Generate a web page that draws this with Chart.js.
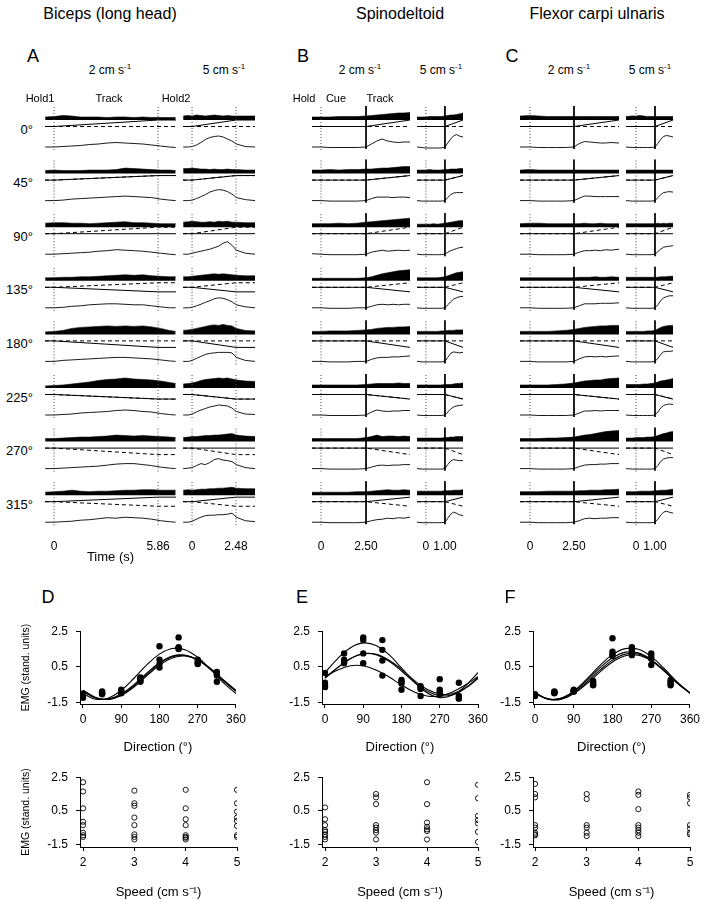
<!DOCTYPE html>
<html>
<head>
<meta charset="utf-8">
<script src="https://cdn.jsdelivr.net/npm/chart.js@4.4.1/dist/chart.umd.min.js"></script>
<style>
  body { margin: 0; background: #fff; }
  #fig { position: relative; width: 704px; height: 900px; overflow: hidden; font-family: "Liberation Sans", Arial, Helvetica, sans-serif; color: #000; }
  .lbl { position: absolute; white-space: nowrap; line-height: 1; transform: translate(-50%, -50%); }
  .lbl.right { transform: translate(-100%, -50%); }
  .lbl sup { font-size: 8px; vertical-align: 5px; }
</style>
</head>
<body>
<div id="fig"></div>
<script>
// directions and hand path components
const directions = ['0°', '45°', '90°', '135°', '180°', '225°', '270°', '315°'];
const dirDeg = [0, 45, 90, 135, 180, 225, 270, 315];
const handX = [1, 0.7, 0, -0.7, -1, -0.7, 0, 0.7];
const handY = [0, 0.7, 1, 0.7, 0, -0.7, -1, -0.7];

// sample times (s)
const tA2 = [-0.5, 0, 0.5, 1, 1.5, 2, 2.5, 3, 3.5, 4, 4.5, 5, 5.5, 6, 6.5, 6.85];
const tA5 = [-0.5, -0.2, 0, 0.25, 0.5, 0.75, 1, 1.25, 1.5, 1.75, 2, 2.25, 2.5, 3, 3.55];
const tB2 = [-0.5, 0, 0.5, 1, 1.5, 2, 2.5, 2.8, 3.1, 3.4, 3.7, 4, 4.3, 4.6, 4.94];
const tB5 = [-0.47, -0.2, 0, 0.2, 0.4, 0.6, 0.8, 1, 1.15, 1.3, 1.45, 1.6, 1.75, 1.95];
const tC2 = [-0.57, 0, 0.5, 1, 1.5, 2, 2.5, 2.8, 3.1, 3.4, 3.7, 4, 4.3, 4.6, 5.06];
const tC5 = [-0.53, -0.2, 0, 0.2, 0.4, 0.6, 0.8, 1, 1.15, 1.3, 1.45, 1.6, 1.75, 1.95];

// biceps EMG envelope and speed trace, one row per direction
const emgA2 = [
  [3, 3.5, 4.5, 4, 3, 3, 3, 2.5, 3, 3, 2.5, 3, 2.5, 2.5, 2.5, 2.5],
  [3, 3.5, 3, 3, 3, 3.5, 3.5, 3.5, 4, 5.5, 5, 4.5, 4, 3.5, 3.5, 3],
  [4, 4.5, 4.5, 4, 4, 3.5, 4, 4.5, 5, 5.5, 4.5, 4.5, 4, 3.5, 3.5, 3.5],
  [3, 3, 3.5, 3.5, 4, 4, 4.5, 5, 5.5, 6, 5.5, 6, 5, 4.5, 4, 4],
  [2.5, 3, 4, 6, 7, 7.5, 8, 8.5, 8, 8.5, 8, 8.5, 7.5, 6, 4, 3],
  [2, 2.5, 3, 4, 5, 6, 7.5, 8.5, 9, 10, 9, 8.5, 8, 7, 5.5, 4.5],
  [3, 3, 3.5, 4, 4.5, 4.5, 5, 5.5, 6.5, 6, 5.5, 6, 5.5, 5, 4.5, 4],
  [3, 3.5, 4, 5, 4, 3.5, 4, 4, 4.5, 5, 5, 5.5, 5.5, 5, 5, 5]
];
const velA2 = [
  [0, 0, 0.5, 1, 1.5, 2.5, 3, 4, 4.5, 4, 3.5, 3, 2, 1, 0, -0.5],
  [0, 0, 0.5, 1.5, 2, 2.5, 3, 3.5, 4, 4.5, 4, 3.5, 3, 1.5, 0.5, 0],
  [0, 0, 0.5, 1, 1.5, 2, 3, 3.5, 4.5, 4, 3.5, 3, 2, 1, 0, -0.5],
  [0, 0, 0.5, 1.5, 2, 3, 3.5, 4, 4, 3.5, 3, 3, 2, 1, 0, 0],
  [0, 0, 1, 1.5, 2, 2.5, 3, 3.5, 4, 4, 3.5, 3, 2.5, 1.5, 0.5, 0],
  [0, 0, 0.5, 1, 2, 2.5, 3, 3.5, 4.5, 5, 4.5, 3.5, 3, 1.5, 0.5, 0],
  [0, 0, 0.5, 1, 1.5, 2, 2.5, 3.5, 4.5, 5, 5, 4, 3, 1.5, 0.5, 0],
  [0, 0, 0.5, 1, 2, 2.5, 3.5, 4.5, 4, 5, 4.5, 4, 3, 1.5, 0.5, 0]
];
const emgA5 = [
  [4, 4.5, 4, 5, 4.5, 4, 4.5, 5, 4.5, 4, 4.5, 4, 4, 4, 4],
  [5, 5, 5.5, 5, 4.5, 4.5, 4, 4.5, 4, 4, 4.5, 4, 4, 3.5, 3.5],
  [5, 5.5, 6, 5.5, 5, 5, 5.5, 5, 6, 5.5, 6, 5, 5, 4.5, 4.5],
  [4, 4, 4.5, 5, 5.5, 6, 6.5, 7, 6.5, 7, 6.5, 6, 5.5, 5, 5],
  [4, 4.5, 5, 6, 7, 8, 9, 9.5, 9, 10, 9, 8.5, 6, 4, 3.5],
  [4, 4.5, 5, 6, 7.5, 8.5, 9, 9.5, 10, 9.5, 10, 9, 8, 7, 6.5],
  [4, 4.5, 5, 5, 5.5, 6, 6, 6.5, 6.5, 7, 7.5, 8, 6.5, 5.5, 5],
  [5, 5.5, 5, 5.5, 6, 6, 6.5, 6.5, 7, 7, 7.5, 8, 7, 6.5, 6.5]
];
const velA5 = [
  [0, 0, 0.5, 2, 4.5, 7.5, 9.5, 10.5, 11, 10, 8, 6, 3, 0.5, 0],
  [0, 0, 0.5, 2, 4, 6, 8.5, 10, 11, 10.5, 9, 6.5, 3, 1, 0],
  [0, 0, 1, 2, 3, 4, 5, 6.5, 8, 11, 12.5, 9, 4, 1, 0],
  [0, 0, 0.5, 2, 3.5, 5.5, 7, 9, 10, 9.5, 8, 6, 3, 1, 0],
  [0, 0, 1, 3, 5, 7, 8, 8.5, 9, 9, 9, 8.5, 4, 1, 0],
  [0, 0, 1, 3, 5, 6.5, 8, 9, 10, 9.5, 9, 7, 3.5, 1, 0.5],
  [0, 0.5, 1, 3, 5, 4, 6, 9, 10, 8.5, 8, 7, 4, 1, 0],
  [0, 0, 1, 3, 5, 6.5, 7, 7, 7.5, 7.5, 8, 9, 5, 1.5, 0.5]
];

// spinodeltoid
const emgB2 = [
  [3, 3, 3, 3.5, 3.5, 3.5, 4, 4.5, 5, 5.5, 6, 6.5, 7, 7, 7.5],
  [3.5, 3.5, 4, 3.5, 4, 4, 4.5, 4.5, 5, 5.5, 5.5, 6, 6.5, 7, 7],
  [3.5, 3.5, 3.5, 4, 3.5, 4, 5, 5.5, 6, 6.5, 7, 7.5, 8, 8.5, 9],
  [2.5, 2.5, 2.5, 2.5, 2.5, 2.5, 3, 4, 5.5, 7, 8, 9, 10, 10.5, 11],
  [3, 3, 3.5, 3.5, 3.5, 4, 4.5, 5, 6, 6.5, 7, 7, 7.5, 7.5, 8],
  [3, 3, 3, 3, 3, 3, 3.5, 4, 4.5, 4.5, 4.5, 4.5, 5, 4.5, 4.5],
  [3, 3, 3, 3, 3, 3, 4, 5, 6.5, 5, 5.5, 5.5, 5, 5.5, 5],
  [3, 3, 3, 3, 3, 3.5, 3.5, 4, 4.5, 5, 5.5, 5, 5, 5.5, 5]
];
const velB2 = [
  [0, 0, -0.5, -0.5, -0.5, -0.5, 0, 3, 6, 8, 6, 5, 4.5, 5, 5],
  [0, 0, -0.5, -0.5, -0.5, -0.5, 0, 2, 3.5, 3.5, 3.5, 3, 3.5, 3.5, 3],
  [0.5, 0, -0.5, -0.5, -0.5, -0.5, 0, 2, 3, 4, 3, 3.5, 4, 3.5, 4],
  [0, 0, -0.5, -0.5, -0.5, 0, 0, 1.5, 3, 3.5, 3, 3.5, 3, 3.5, 3.5],
  [0, 0, -0.5, -0.5, -0.5, 0, 0, 2, 3.5, 4, 4, 4.5, 4.5, 5, 5.5],
  [0, 0, -0.5, -0.5, -0.5, -0.5, 0, 3, 5, 4, 3.5, 4, 4, 4.5, 4.5],
  [0, 0, -0.5, -0.5, -0.5, -0.5, 0, 1.5, 3, 3.5, 3, 3.5, 3.5, 4, 4],
  [0, 0, -0.5, -0.5, -0.5, -0.5, 0, 1.5, 2.5, 3, 4, 3.5, 4.5, 4, 5]
];
const emgB5 = [
  [3, 3, 3, 3.5, 3.5, 3.5, 3.5, 4, 4.5, 5, 5, 5.5, 6, 7],
  [3.5, 3.5, 3.5, 4, 3.5, 3.5, 3.5, 4, 4, 4.5, 4.5, 4.5, 5, 5],
  [3, 3, 3, 3, 3.5, 3, 3.5, 4, 4.5, 5, 5.5, 6, 6.5, 6.5],
  [3, 3, 3, 3, 3, 3, 3.5, 4, 5, 6, 7, 8, 8.5, 9],
  [3, 3, 3, 3, 3, 3, 3.5, 3.5, 4, 4, 4, 4.5, 4.5, 4.5],
  [3, 3, 3, 3, 3, 3, 3, 3.5, 3.5, 3.5, 4, 4.5, 4.5, 5],
  [3.5, 3.5, 3.5, 3.5, 3.5, 3.5, 3.5, 4, 4, 4.5, 4.5, 5, 5, 5],
  [4, 4, 4, 4, 4, 4, 4, 4.5, 4.5, 4.5, 5, 5, 5, 5.5]
];
const velB5 = [
  [0, -0.5, -1, -1, -1, -1, -1, 0, 4, 8, 11, 12.5, 11, 10],
  [0, -0.5, -0.5, -0.5, -0.5, -0.5, -0.5, 0, 3, 6, 7.5, 8, 8, 8],
  [0, -0.5, -0.5, -0.5, -0.5, -0.5, -0.5, 0, 2, 3.5, 4.5, 5.5, 6.5, 7],
  [0, -0.5, -0.5, -0.5, -0.5, -0.5, -0.5, 0, 3, 6, 8.5, 10, 11, 11.5],
  [0, -0.5, -0.5, -0.5, -0.5, -0.5, -0.5, 0, 4, 8, 9.5, 9, 8.5, 9],
  [0, -0.5, -0.5, -0.5, -0.5, -0.5, -0.5, 0, 3, 6, 8, 9, 9.5, 10],
  [0, -0.5, -0.5, -0.5, -0.5, -0.5, -0.5, 0, 4, 7.5, 9, 8.5, 8, 8],
  [0, -0.5, -0.5, -0.5, -0.5, -0.5, -0.5, 0, 4, 8, 10, 9, 7.5, 6.5]
];

// flexor carpi ulnaris
const emgC2 = [
  [4, 4.5, 4, 3.5, 3.5, 3.5, 3.5, 3.5, 3.5, 3.5, 3.5, 3.5, 3.5, 3.5, 3.5],
  [3.5, 4, 3.5, 3.5, 3.5, 3.5, 3.5, 3.5, 3.5, 3.5, 3.5, 3.5, 3.5, 3.5, 3.5],
  [3.5, 4, 4, 3.5, 3.5, 3.5, 3.5, 3.5, 4, 3.5, 3.5, 4, 3.5, 3.5, 3.5],
  [3, 3, 3, 3, 3, 3, 3, 3.5, 3.5, 3.5, 4, 3.5, 3.5, 4, 3.5],
  [3, 3, 3, 3, 3.5, 4, 5, 6, 7, 7.5, 8, 8.5, 8.5, 9, 9],
  [3, 3, 3, 3, 3.5, 4, 5, 6, 7, 7.5, 8, 8, 9, 9.5, 10],
  [3, 3, 3, 3.5, 3.5, 4, 4.5, 5.5, 6.5, 7, 8, 9, 10, 10.5, 11],
  [3.5, 3.5, 3.5, 4, 4, 4, 4, 4.5, 4.5, 5, 5, 5, 5.5, 5.5, 6]
];
const velC2 = [
  [0, 0, -0.5, -0.5, -0.5, -0.5, 0, 3.5, 5.5, 5, 4.5, 4, 4, 4.5, 4],
  [0, 0, -0.5, -0.5, -0.5, -0.5, 0, 2.5, 4.5, 4.5, 4, 4, 4, 4, 4],
  [0, 0, -0.5, -0.5, -0.5, -0.5, 0, 2, 3.5, 3.5, 4, 3.5, 4.5, 4, 5],
  [0, 0, -0.5, -0.5, -0.5, -0.5, 0, 2, 4, 4, 4, 4.5, 4.5, 4.5, 5],
  [0, 0, -0.5, -0.5, -0.5, -0.5, 0, 2.5, 4.5, 5, 4.5, 5, 4.5, 5, 5.5],
  [0, 0, -0.5, -0.5, -0.5, -0.5, 0, 2, 4, 4, 4.5, 4, 4.5, 4.5, 4.5],
  [0, 0, -0.5, -0.5, -0.5, -0.5, 0, 2, 3.5, 4, 4, 4.5, 4.5, 5, 5],
  [0, 0, -0.5, -0.5, -0.5, -0.5, 0, 1.5, 3.5, 4, 3.5, 4, 4, 4.5, 4.5]
];
const emgC5 = [
  [3.5, 4, 4, 4.5, 4, 3.5, 3.5, 3.5, 3.5, 3.5, 3.5, 3.5, 3.5, 3.5],
  [3.5, 3.5, 3.5, 3.5, 3.5, 3.5, 3.5, 3.5, 3.5, 3.5, 3.5, 3.5, 3.5, 3.5],
  [3.5, 3.5, 3.5, 3.5, 3.5, 3.5, 3.5, 3.5, 4, 3.5, 4, 3.5, 4, 4],
  [3.5, 3.5, 3.5, 3.5, 3.5, 3.5, 3.5, 3.5, 3.5, 4, 4, 4, 4.5, 4.5],
  [3, 3, 3, 3, 3, 3.5, 3.5, 4, 5.5, 7, 8, 8.5, 9, 9],
  [3.5, 3.5, 3.5, 3.5, 4, 4, 4.5, 5, 6, 7, 7.5, 8, 8.5, 9.5],
  [3.5, 3.5, 4, 4, 4, 4.5, 4.5, 5, 6, 7, 8, 8.5, 9.5, 10],
  [3.5, 3.5, 3.5, 4, 4, 4, 4, 4.5, 4.5, 5, 5, 5, 5.5, 6]
];
const velC5 = [
  [0, -0.5, -0.5, -0.5, -0.5, -0.5, -0.5, 0, 3.5, 7.5, 10.5, 11.5, 11, 10],
  [0, -0.5, -0.5, -0.5, -0.5, -0.5, -0.5, 0, 3, 6, 8, 8.5, 9, 8.5],
  [0, -0.5, -0.5, -0.5, -0.5, -0.5, -0.5, 0, 2.5, 5, 7, 7.5, 8, 8.5],
  [0, -0.5, -0.5, -0.5, -0.5, -0.5, -0.5, 0, 3, 7, 10, 11, 12, 12],
  [0, -0.5, -0.5, -0.5, -0.5, -0.5, -0.5, 0, 3, 7, 9.5, 10, 10, 10.5],
  [0, -0.5, -0.5, -0.5, -0.5, -0.5, -0.5, 0, 3, 7, 9.5, 10.5, 11, 10.5],
  [0, -0.5, -0.5, -0.5, -0.5, -0.5, -0.5, 0, 3, 7, 9.5, 10.5, 11, 11],
  [0, -0.5, -0.5, -0.5, -0.5, -0.5, -0.5, 0, 3, 7, 10, 11, 10, 9]
];

// tuning (D-F): mean EMG per direction, one value per speed
const bicepsDir = [[-1.0, -1.1, -1.2, -1.25], [-0.9, -0.95, -1.0, -1.05], [-0.8, -0.9, -0.95, -1.0], [-0.1, -0.2, -0.3, -0.35],
  [1.65, 0.9, 0.65, 0.45], [2.15, 1.6, 1.55, 1.5], [0.9, 0.8, 0.7, 0.65], [0.2, 0.1, 0.0, -0.35]];
const spinoDir = [[0.15, -0.4, -0.55, -0.65], [1.25, 0.9, 0.8, 0.7], [2.15, 2.0, 1.25, 0.7], [2.0, 1.45, 0.85, 0.0],
  [-0.25, -0.35, -0.45, -0.8], [-0.6, -0.7, -0.75, -1.15], [-0.2, -0.8, -0.9, -1.05], [-0.4, -1.15, -1.25, -1.3]];
const flexorDir = [[-1.05, -1.1, -1.1, -1.15], [-0.9, -0.95, -0.95, -1.0], [-0.8, -0.85, -0.9, -0.9], [-0.3, -0.4, -0.5, -0.55],
  [2.1, 1.35, 1.2, 1.1], [1.6, 1.45, 1.3, 1.15], [1.25, 1.1, 0.95, 0.6], [-0.25, -0.35, -0.45, -0.55]];

// fitted curves, read every 30 deg
const curveDeg = [0, 30, 60, 90, 120, 150, 180, 210, 240, 270, 300, 330, 360];
const bicepsFits = [
  [-1.01, -1.33, -1.26, -0.83, -0.15, 0.60, 1.21, 1.53, 1.46, 1.03, 0.35, -0.40, -1.01],
  [-0.87, -1.26, -1.34, -1.09, -0.57, 0.07, 0.67, 1.06, 1.14, 0.89, 0.37, -0.27, -0.87],
  [-0.82, -1.23, -1.34, -1.12, -0.64, -0.01, 0.58, 0.99, 1.10, 0.88, 0.40, -0.23, -0.82],
  [-0.88, -1.26, -1.31, -1.04, -0.51, 0.14, 0.72, 1.10, 1.15, 0.88, 0.35, -0.30, -0.88]
];
const spinoFits = [
  [0.17, 0.96, 1.57, 1.84, 1.70, 1.19, 0.43, -0.36, -0.97, -1.24, -1.10, -0.59, 0.17],
  [-0.16, 0.46, 0.97, 1.23, 1.18, 0.82, 0.26, -0.36, -0.87, -1.13, -1.08, -0.72, -0.16],
  [-0.12, 0.45, 0.95, 1.23, 1.20, 0.88, 0.35, -0.27, -0.77, -1.03, -1.02, -0.70, -0.12],
  [-0.07, 0.32, 0.55, 0.55, 0.32, -0.07, -0.53, -0.92, -1.15, -1.15, -0.92, -0.53, -0.07]
];
const flexorFits = [
  [-0.98, -1.32, -1.28, -0.87, -0.20, 0.55, 1.18, 1.52, 1.48, 1.07, 0.40, -0.35, -0.98],
  [-1.00, -1.32, -1.28, -0.90, -0.28, 0.42, 1.00, 1.32, 1.28, 0.90, 0.28, -0.42, -1.00],
  [-0.97, -1.31, -1.31, -0.97, -0.39, 0.29, 0.87, 1.21, 1.21, 0.87, 0.29, -0.39, -0.97],
  [-0.98, -1.33, -1.34, -1.02, -0.47, 0.18, 0.77, 1.12, 1.15, 0.84, 0.26, -0.41, -0.98]
];

// speed plots: values per speed
const speeds = [2, 3, 4, 5];
const bicepsSpeed = [[2.2, 1.65, 0.65, -0.15, -0.35, -0.8, -0.95, -1.05], [1.7, 0.95, 0.8, 0.1, -0.35, -0.9, -1.05, -1.2],
  [1.75, 0.65, 0.0, -0.35, -0.95, -1.05, -1.1, -1.2], [1.75, 0.95, 0.45, 0.1, -0.1, -0.4, -0.95, -1.05]];
const spinoSpeed = [[0.7, 0.0, -0.35, -0.65, -0.75, -0.9, -1.05, -1.2], [1.5, 1.3, 0.9, -0.35, -0.5, -0.65, -0.8, -1.2],
  [2.2, 0.9, -0.2, -0.45, -0.6, -0.7, -1.2], [2.05, 1.25, 0.2, -0.05, -0.25, -0.75, -1.35]];
const flexorSpeed = [[2.1, 1.5, 1.3, -0.35, -0.5, -0.8, -0.9, -0.95], [1.5, 1.2, -0.35, -0.5, -0.8, -1.0],
  [1.65, 1.45, 0.6, -0.35, -0.5, -0.65, -0.8, -1.0], [1.45, 1.3, 0.95, -0.35, -0.55, -0.8, -0.9]];

const emgTicks = [-1.5, 0.5, 2.5];

Chart.defaults.font.family = '"Liberation Sans", Arial, Helvetica, sans-serif';
Chart.defaults.color = '#000';
Chart.defaults.plugins.colors.enabled = false;

const fig = document.getElementById('fig');

function addCanvas(x, y, w, h) {
  const c = document.createElement('canvas');
  c.width = w;
  c.height = h;
  c.style.cssText = 'position:absolute;left:' + x + 'px;top:' + y + 'px;width:' + w + 'px;height:' + h + 'px';
  fig.appendChild(c);
  return c;
}

function label(html, x, y, size, cls) {
  const d = document.createElement('div');
  d.className = 'lbl' + (cls ? ' ' + cls : '');
  d.style.left = x + 'px';
  d.style.top = y + 'px';
  d.style.fontSize = size + 'px';
  d.innerHTML = html;
  fig.appendChild(d);
}

// ---- EMG trace panels (A-C) ----
const ROW0 = 20, ROW_STEP = 53.6, RAMP = 6.5;

const panels = [
  { left: 45, right: 176, tMin: -0.51, tMax: 6.87, t: tA2, emg: emgA2, vel: velA2, ramp: [0, 5.86], dotted: [0, 5.86], solid: [], ticks: [0, 5.86], title: 'Time (s)' },
  { left: 183, right: 255, tMin: -0.51, tMax: 3.55, t: tA5, emg: emgA5, vel: velA5, ramp: [0, 2.48], dotted: [0, 2.48], solid: [], ticks: [0, 2.48] },
  { left: 312, right: 410, tMin: -0.5, tMax: 4.94, t: tB2, emg: emgB2, vel: velB2, ramp: [2.5, 4.94], dotted: [0], solid: [2.5], ticks: [0, 2.5] },
  { left: 417, right: 463, tMin: -0.47, tMax: 1.95, t: tB5, emg: emgB5, vel: velB5, ramp: [1, 1.95], dotted: [0], solid: [1], ticks: [0, 1] },
  { left: 520, right: 619, tMin: -0.57, tMax: 5.06, t: tC2, emg: emgC2, vel: velC2, ramp: [2.5, 5.06], dotted: [0], solid: [2.5], ticks: [0, 2.5] },
  { left: 626, right: 673, tMin: -0.53, tMax: 1.95, t: tC5, emg: emgC5, vel: velC5, ramp: [1, 1.95], dotted: [0], solid: [1], ticks: [0, 1] }
];

function traceChart(p) {
  const canvas = addCanvas(p.left, 100, p.right - p.left, 475);
  const datasets = [];
  directions.forEach(function (d, k) {
    const base = ROW0 + ROW_STEP * k;
    const rampT = [p.tMin, p.ramp[0], p.ramp[1], p.tMax];
    p.dotted.forEach(function (t) {
      datasets.push({ data: [{ x: t, y: base - 13 }, { x: t, y: base + 30 }], borderColor: '#444', borderWidth: 1, borderDash: [1, 2] });
    });
    p.solid.forEach(function (t) {
      datasets.push({ data: [{ x: t, y: base - 14 }, { x: t, y: base + 29 }], borderColor: '#000', borderWidth: 1 });
    });
    datasets.push({
      data: p.t.map(function (t, i) { return { x: t, y: base - p.emg[k][i] }; }),
      borderColor: '#000', backgroundColor: '#000', borderWidth: 0.6, fill: { value: base }
    });
    datasets.push({
      data: rampT.map(function (t, i) { return { x: t, y: base + RAMP - (i < 2 ? 0 : handX[k]) * RAMP }; }),
      borderColor: '#000', borderWidth: 1
    });
    datasets.push({
      data: rampT.map(function (t, i) { return { x: t, y: base + RAMP - (i < 2 ? 0 : handY[k]) * RAMP }; }),
      borderColor: '#000', borderWidth: 1, borderDash: [4, 3]
    });
    datasets.push({
      data: p.t.map(function (t, i) { return { x: t, y: base + 27 - p.vel[k][i] }; }),
      borderColor: '#000', borderWidth: 0.9
    });
  });

  new Chart(canvas, {
    type: 'line',
    data: { datasets: datasets },
    options: {
      responsive: false,
      animation: false,
      events: [],
      layout: { padding: 0 },
      elements: { point: { radius: 0 }, line: { tension: 0 } },
      plugins: { legend: { display: false }, tooltip: { enabled: false } },
      scales: {
        x: {
          type: 'linear', min: p.tMin, max: p.tMax,
          border: { display: false },
          grid: { display: false },
          afterBuildTicks: function (s) { s.ticks = p.ticks.map(function (v) { return { value: v }; }); },
          afterFit: function (s) { s.height = 45; },
          ticks: {
            autoSkip: false, maxRotation: 0, padding: 1, font: { size: 12 },
            callback: function (v) { return v === 0 ? '0' : v.toFixed(2); }
          },
          title: { display: !!p.title, text: p.title || '', font: { size: 13 }, padding: { top: 0, bottom: 10 } }
        },
        y: { display: false, min: 0, max: 430, reverse: true }
      }
    }
  });
}

panels.forEach(traceChart);

// ---- tuning and speed plots (D-F) ----
function axisOptions(o) {
  return {
    responsive: false,
    animation: false,
    events: [],
    layout: { padding: { top: o.padTop, right: o.padRight, left: 0, bottom: 0 } },
    plugins: { legend: { display: false }, tooltip: { enabled: false } },
    scales: {
      x: {
        type: 'linear', min: o.xMin, max: o.xMax,
        afterBuildTicks: function (s) { s.ticks = o.xTicks.map(function (v) { return { value: v }; }); },
        afterFit: function (s) { s.height = o.xH; },
        grid: { drawOnChartArea: false, tickLength: 4, color: '#000' },
        border: { color: '#000', width: 1 },
        ticks: { autoSkip: false, maxRotation: 0, padding: 4, font: { size: 12 } },
        title: { display: true, text: o.xTitle, font: { size: 13 }, padding: { top: 0, bottom: o.xTitlePad } }
      },
      y: {
        min: o.yMin, max: 2.5,
        afterBuildTicks: function (s) { s.ticks = emgTicks.map(function (v) { return { value: v }; }); },
        afterFit: function (s) { s.width = o.yW; },
        grid: { drawOnChartArea: false, tickLength: 4, color: '#000' },
        border: { color: '#000', width: 1 },
        ticks: { padding: 8, font: { size: 12 }, callback: function (v) { return v.toFixed(1); } },
        title: { display: o.yTitle, text: 'EMG (stand. units)', font: { size: 10.5 }, padding: { top: 20, bottom: 0 } }
      }
    }
  };
}

const bottomCols = [
  { left: 0, width: 250, yW: 80, tuneMin: -7, padRight: 13, speedMin: 1.94, dir: bicepsDir, fits: bicepsFits, speed: bicepsSpeed, yTitle: true },
  { left: 250, width: 250, yW: 72, tuneMin: -7, padRight: 22, speedMin: 1.94, dir: spinoDir, fits: spinoFits, speed: spinoSpeed, yTitle: false },
  { left: 470, width: 234, yW: 63, tuneMin: -4.6, padRight: 14, speedMin: 1.96, dir: flexorDir, fits: flexorFits, speed: flexorSpeed, yTitle: false }
];

bottomCols.forEach(function (c) {
  // direction tuning
  const tuneSets = c.fits.map(function (f) {
    return {
      data: curveDeg.map(function (d, i) { return { x: d, y: f[i] }; }),
      borderColor: '#000', borderWidth: 1.1, tension: 0.4, pointRadius: 0
    };
  });
  const pts = [];
  dirDeg.forEach(function (d, k) { c.dir[k].forEach(function (v) { pts.push({ x: d, y: v }); }); });
  tuneSets.unshift({
    data: pts, showLine: false, borderColor: '#000',
    pointRadius: 3.2, pointBackgroundColor: '#000', pointBorderColor: '#000', pointBorderWidth: 0
  });
  new Chart(addCanvas(c.left, 616, c.width, 144), {
    type: 'line',
    data: { datasets: tuneSets },
    options: axisOptions({ padTop: 15, padRight: c.padRight, xMin: c.tuneMin, xMax: 360, xTicks: [0, 90, 180, 270, 360],
      xH: 56, xTitle: 'Direction (°)', xTitlePad: 5, yMin: -1.6, yW: c.yW, yTitle: c.yTitle })
  });

  // speed
  const spd = [];
  speeds.forEach(function (s, k) { c.speed[k].forEach(function (v) { spd.push({ x: s, y: v }); }); });
  new Chart(addCanvas(c.left, 762, c.width, 138), {
    type: 'line',
    data: { datasets: [{ data: spd, showLine: false, borderColor: '#000', pointRadius: 2.6,
      pointBackgroundColor: 'rgba(255,255,255,0)', pointBorderColor: '#000', pointBorderWidth: 0.9 }] },
    options: axisOptions({ padTop: 14, padRight: c.padRight, xMin: c.speedMin, xMax: 5, xTicks: speeds,
      xH: 53, xTitle: 'Speed (cm s\u207B\u00B9)', xTitlePad: 0, yMin: -1.65, yW: c.yW, yTitle: c.yTitle })
  });
});

// ---- text ----
label('Biceps (long head)', 110, 14, 16);
label('Spinodeltoid', 400, 14, 16);
label('Flexor carpi ulnaris', 597, 14, 16);
label('A', 33, 56, 18);
label('B', 303, 56, 18);
label('C', 512, 56, 18);
const cms = ' cm s<sup>-1</sup>';
label('2' + cms, 110, 69, 12);
label('5' + cms, 224, 69, 12);
label('2' + cms, 360, 69, 12);
label('5' + cms, 441, 69, 12);
label('2' + cms, 569, 69, 12);
label('5' + cms, 650, 69, 12);
label('Hold1', 40, 98, 11);
label('Track', 109, 98, 11);
label('Hold2', 176, 98, 11);
label('Hold', 304, 98, 11);
label('Cue', 336, 98, 11);
label('Track', 380, 98, 11);
directions.forEach(function (d, k) { label(d, 33, 128.5 + ROW_STEP * k, 13, 'right'); });
label('D', 48, 597, 18);
label('E', 302, 597, 18);
label('F', 510, 597, 18);
</script>
</body>
</html>
